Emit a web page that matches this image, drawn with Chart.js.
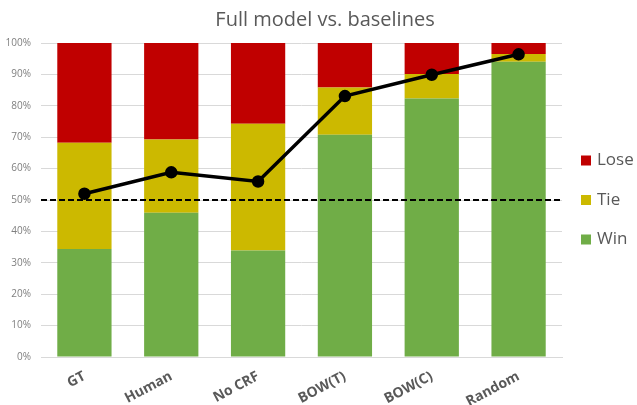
<!DOCTYPE html>
<html>
<head>
<meta charset="utf-8">
<script src="https://cdn.jsdelivr.net/npm/chart.js@4.4.1/dist/chart.umd.min.js"></script>
<style>
  html, body { margin: 0; padding: 0; background: #ffffff; }
  #wrap { width: 637px; height: 405px; }
</style>
</head>
<body>
<div id="wrap"><canvas id="c" width="637" height="405"></canvas></div>
<script>
// Categories compared against the full model
const categories = ['GT', 'Human', 'No CRF', 'BOW(T)', 'BOW(C)', 'Random'];

// Share of judgements (%) per outcome
const winValues  = [34.4, 45.9, 33.9, 70.8, 82.3, 94.0];
const tieValues  = [33.8, 23.4, 40.4, 15.0, 7.8, 2.5];
const loseValues = [31.8, 30.7, 25.7, 14.2, 9.9, 3.5];

// Overall preference score (%) for the full model
const scoreValues = [52.0, 58.8, 55.9, 83.1, 89.9, 96.4];

// Chance level reference
const chanceLevel = 50;

// Y axis ticks
const yTicks = [0, 10, 20, 30, 40, 50, 60, 70, 80, 90, 100];

const FONT = "'Open Sans', 'Noto Sans', sans-serif";
const TEXT = '#595959';

// Dashed horizontal reference line across the whole plot area
const chanceLine = {
  id: 'chanceLine',
  afterDatasetsDraw(chart) {
    const { ctx, chartArea, scales } = chart;
    const y = scales.y.getPixelForValue(chanceLevel);
    ctx.save();
    ctx.strokeStyle = '#000000';
    ctx.lineWidth = 2;
    ctx.setLineDash([6, 3]);
    ctx.beginPath();
    ctx.moveTo(chartArea.left, y);
    ctx.lineTo(chartArea.right, y);
    ctx.stroke();
    ctx.restore();
  }
};

// Nudge the title so it is centred a little right of the canvas middle
const titleOffset = {
  id: 'titleOffset',
  afterLayout(chart) {
    if (chart.titleBlock) chart.titleBlock.left = 13;
  }
};

// Legend column to the right of the plot, listing the bar series top to bottom
const sideLegend = {
  id: 'sideLegend',
  afterDraw(chart) {
    const { ctx, chartArea } = chart;
    const bars = chart.data.datasets.filter(d => d.type === 'bar').slice().reverse();
    const x = chartArea.right + 19;
    const midY = 200;
    const step = 39.5;
    ctx.save();
    ctx.font = `17px ${FONT}`;
    ctx.textBaseline = 'middle';
    ctx.textAlign = 'left';
    bars.forEach((d, i) => {
      const cy = midY + (i - 1) * step;
      ctx.fillStyle = d.backgroundColor;
      ctx.fillRect(x, cy - 5, 10, 10);
      ctx.fillStyle = TEXT;
      ctx.fillText(d.label, x + 16, cy);
    });
    ctx.restore();
  }
};

new Chart(document.getElementById('c'), {
  data: {
    labels: categories,
    datasets: [
      {
        type: 'line',
        label: 'Score',
        data: scoreValues,
        borderColor: '#000000',
        backgroundColor: '#000000',
        borderWidth: 3.5,
        pointRadius: 4.5,
        pointHoverRadius: 4.5,
        tension: 0,
        order: 0
      },
      {
        type: 'bar',
        label: 'Win',
        data: winValues,
        backgroundColor: '#70AD47',
        categoryPercentage: 1,
        barPercentage: 0.625,
        order: 1
      },
      {
        type: 'bar',
        label: 'Tie',
        data: tieValues,
        backgroundColor: '#CCB900',
        categoryPercentage: 1,
        barPercentage: 0.625,
        order: 1
      },
      {
        type: 'bar',
        label: 'Lose',
        data: loseValues,
        backgroundColor: '#C00000',
        categoryPercentage: 1,
        barPercentage: 0.625,
        order: 1
      }
    ]
  },
  options: {
    responsive: false,
    animation: false,
    layout: { padding: { left: 0, right: 0, top: 0, bottom: 0 } },
    plugins: {
      title: {
        display: true,
        text: 'Full model vs. baselines',
        color: TEXT,
        font: { family: FONT, size: 20, weight: 'normal' },
        padding: { top: 8, bottom: 11 }
      },
      legend: { display: false },
      tooltip: { enabled: false }
    },
    scales: {
      x: {
        stacked: true,
        grid: { display: false },
        border: { color: '#D9D9D9' },
        afterFit: (axis) => { axis.height = 48; },
        ticks: {
          color: TEXT,
          font: { family: FONT, size: 14, weight: 'bold' },
          minRotation: 28,
          maxRotation: 28,
          padding: 3
        }
      },
      y: {
        stacked: true,
        min: 0,
        max: 100,
        afterBuildTicks: (axis) => { axis.ticks = yTicks.map(v => ({ value: v })); },
        afterFit: (axis) => { axis.width = 41; },
        grid: { color: '#D9D9D9', lineWidth: 1, drawTicks: false },
        border: { display: false },
        ticks: {
          color: '#7F7F7F',
          font: { family: FONT, size: 10 },
          padding: 10,
          callback: (v) => v + '%'
        }
      },
      // empty right-hand gutter that holds the legend column
      legendGutter: {
        type: 'linear',
        position: 'right',
        display: true,
        afterFit: (axis) => { axis.width = 75; },
        grid: { display: false },
        border: { display: false },
        ticks: { display: false }
      }
    }
  },
  plugins: [chanceLine, titleOffset, sideLegend]
});
</script>
</body>
</html>
